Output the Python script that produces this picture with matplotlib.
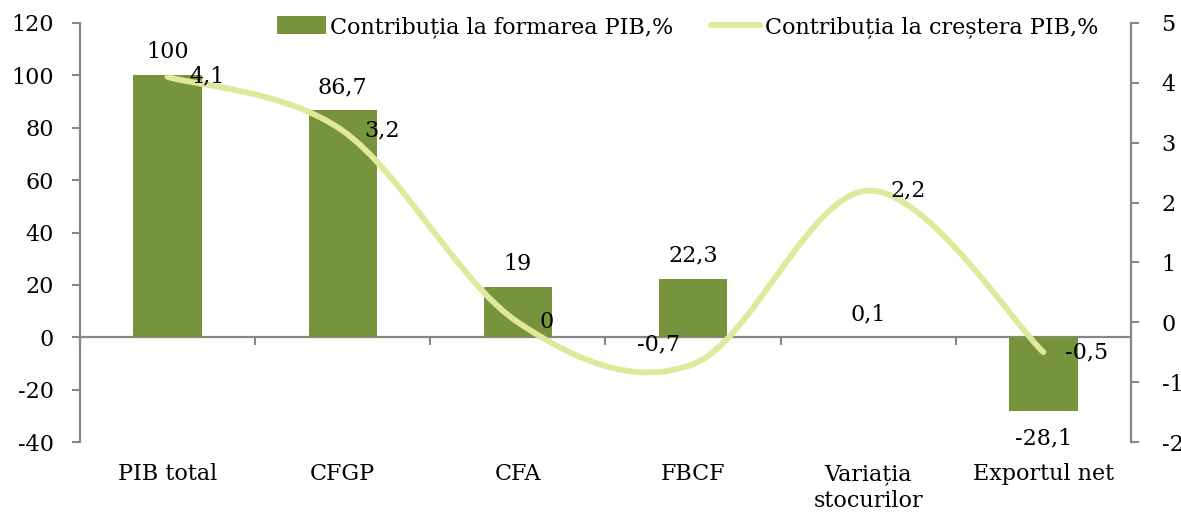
import numpy as np
import matplotlib
matplotlib.use("Agg")
import matplotlib.pyplot as plt
from matplotlib.path import Path
from matplotlib.patches import PathPatch, Patch
from matplotlib.lines import Line2D

categories = ["PIB total", "CFGP", "CFA", "FBCF", "Variația\nstocurilor", "Exportul net"]
formare = [100, 86.7, 19, 22.3, 0.1, -28.1]
crestere = [4.1, 3.2, 0, -0.7, 2.2, -0.5]
left_ticks = [-40, -20, 0, 20, 40, 60, 80, 100, 120]
right_ticks = [-2, -1, 0, 1, 2, 3, 4, 5]
legend_labels = ["Contribuția la formarea PIB,%", "Contribuția la creștera PIB,%"]

bar_color = "#77933C"
line_color = "#DFE89B"
axis_color = "#878787"
fs = 16

plt.rcParams["font.family"] = ["DejaVu Serif"]


def fmt(v):
    return "{:g}".format(v).replace(".", ",")


def smooth_path(xs, ys):
    # bezier segments like Excel's smoothed line
    pts = np.column_stack([xs, ys]).astype(float)
    n = len(pts)
    verts = [pts[0]]
    codes = [Path.MOVETO]
    for i in range(n - 1):
        p0 = pts[max(i - 1, 0)]
        p1 = pts[i]
        p2 = pts[i + 1]
        p3 = pts[min(i + 2, n - 1)]
        c1 = p1 + (p2 - p0) / 6.0
        c2 = p2 - (p3 - p1) / 6.0
        verts += [c1, c2, p2]
        codes += [Path.CURVE4] * 3
    return Path(verts, codes)


x = np.arange(len(categories))

fig = plt.figure(figsize=(11.81, 5.18), dpi=100)
ax = fig.add_axes([0.0677, 0.1467, 0.8900, 0.8089])

ax.bar(x, formare, width=0.39, color=bar_color, zorder=2)
ax.set_xlim(-0.5, len(categories) - 0.5)
ax.set_ylim(-40, 120)
ax.set_yticks(left_ticks)
ax.set_yticklabels([fmt(t) for t in left_ticks])
ax.set_xticks(x)
ax.set_xticklabels(categories, linespacing=1.3)
ax.tick_params(axis="x", length=0, pad=15, labelsize=fs)
ax.tick_params(axis="y", direction="out", length=6, width=1.5, color=axis_color,
               pad=13, labelsize=fs)
for s in ["top", "right", "bottom"]:
    ax.spines[s].set_visible(False)
ax.spines["left"].set_color(axis_color)
ax.spines["left"].set_linewidth(1.6)

# category axis drawn at zero with boundary ticks
secax = ax.secondary_xaxis(0, transform=ax.transData)
secax.set_xticks(np.arange(len(categories) + 1) - 0.5)
secax.set_xticklabels([])
secax.tick_params(axis="x", direction="out", length=6, width=1.5, color=axis_color)
secax.spines["bottom"].set_color(axis_color)
secax.spines["bottom"].set_linewidth(1.6)

for xi, v in zip(x, formare):
    if v >= 0:
        ax.annotate(fmt(v), (xi, v), xytext=(0, 12), textcoords="offset pixels",
                    ha="center", va="bottom", fontsize=fs)
    else:
        ax.annotate(fmt(v), (xi, v), xytext=(0, -17), textcoords="offset pixels",
                    ha="center", va="top", fontsize=fs)

ax2 = ax.twinx()
ax2.set_ylim(-2, 5)
ax2.set_yticks(right_ticks)
ax2.set_yticklabels([fmt(t) for t in right_ticks])
ax2.tick_params(axis="y", direction="out", length=6, width=1.5, color=axis_color,
                pad=16, labelsize=fs)
for s in ["top", "left", "bottom"]:
    ax2.spines[s].set_visible(False)
ax2.spines["right"].set_color(axis_color)
ax2.spines["right"].set_linewidth(1.6)

curve = PathPatch(smooth_path(x, crestere), facecolor="none", edgecolor=line_color,
                  linewidth=4.2, capstyle="round", joinstyle="round", zorder=3)
ax2.add_patch(curve)

for xi, v in zip(x, crestere):
    if v == -0.7:
        ax2.annotate(fmt(v), (xi, v), xytext=(-13, 20), textcoords="offset pixels",
                     ha="right", va="center", fontsize=fs, zorder=4)
    else:
        ax2.annotate(fmt(v), (xi, v), xytext=(22, 0), textcoords="offset pixels",
                     ha="left", va="center", fontsize=fs, zorder=4)

handles = [Patch(facecolor=bar_color, edgecolor="none"),
           Line2D([], [], color=line_color, linewidth=4.2, solid_capstyle="round")]
fig.legend(handles, legend_labels, loc="center", bbox_to_anchor=(0.582, 0.948),
           ncol=2, frameon=False, fontsize=fs, handlelength=2.2, handleheight=0.85,
           handletextpad=0.2, columnspacing=1.7)

fig.savefig("out.png", dpi=100)
